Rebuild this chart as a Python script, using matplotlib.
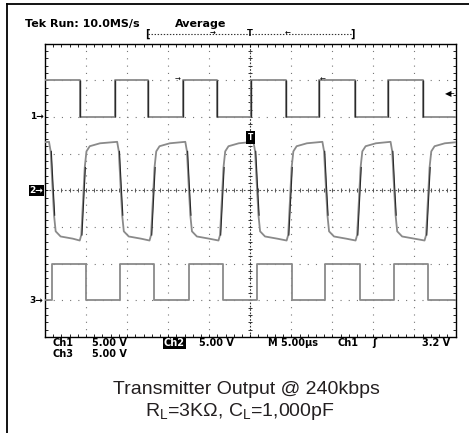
import numpy as np
import matplotlib.pyplot as plt
from matplotlib.lines import Line2D
from matplotlib.ticker import MultipleLocator
import matplotlib.transforms as mtransforms

plt.rcParams['lines.scale_dashes'] = False
plt.rcParams['mathtext.fontset'] = 'custom'
plt.rcParams['mathtext.rm'] = 'Liberation Sans'

# scope settings: 5 us/div (10 div), 5 V/div (8 div)
us_per_div = 5.0
v_per_div = 5.0
t_span = 10 * us_per_div
trig_level = 3.2

# ground reference of each channel, in divisions from centre
ch1_offset = 2.0
ch2_offset = 0.0
ch3_offset = -3.0

# Ch1 - logic input (V), edge times in us
ch1_levels = [0.0, 5.0]
ch1_rise = [8.5, 16.8, 25.1, 33.4, 41.8]
ch1_fall = [4.3, 12.5, 20.9, 29.3, 37.7, 46.0]

# Ch3 - receiver output
ch3_levels = [0.0, 5.0]
ch3_rise = [0.8, 9.1, 17.5, 25.8, 34.1, 42.5]
ch3_fall = [5.0, 13.3, 21.7, 30.1, 38.4, 46.7]

# Ch2 - transmitter output, zero crossings (us)
ch2_rise = [-3.5, 4.7, 13.2, 21.6, 29.9, 38.3, 46.7]
ch2_fall = [0.9, 9.2, 17.5, 25.8, 34.2, 42.5, 51.0]
# edge shape read around each crossing (us from crossing, V)
rise_dt = [-0.47, -0.28, -0.07, 0.14, 0.35, 0.75, 2.0]
rise_v = [-6.85, -6.1, -1.5, 3.1, 5.3, 6.0, 6.4]
fall_dt = [-0.41, -0.21, 0.0, 0.2, 0.4, 1.0, 2.5]
fall_v = [6.6, 5.3, 0.7, -3.4, -5.6, -6.3, -6.6]


def square(rise, fall, levels, start):
    ev = sorted([(t, levels[1]) for t in rise] + [(t, levels[0]) for t in fall])
    x = [0.0] + [e[0] for e in ev] + [t_span]
    y = [start] + [e[1] for e in ev]
    y = y + [y[-1]]
    return np.array(x), np.array(y)


def to_div(v, off):
    return off + np.asarray(v) / v_per_div


fig = plt.figure(figsize=(4.69, 4.33), dpi=100)
W, H = 469.0, 433.0
ax = fig.add_axes([45 / W, 1 - 337 / H, 410.5 / W, 293.5 / H])
ax.set_xlim(0, t_span)
ax.set_ylim(-4, 4)

# graticule
for xv in np.arange(us_per_div, t_span, us_per_div):
    if xv != t_span / 2:
        ax.axvline(xv, color='#777777', lw=0.8, ls=(0, (0.8, 4.47)), zorder=1)
for yv in np.arange(-3, 4, 1):
    if yv != 0:
        ax.axhline(yv, color='#777777', lw=0.8, ls=(0, (0.8, 5.1)), zorder=1)
ax.axvline(t_span / 2, color='#333333', lw=0.8, ls=(0, (1.2, 1.2)), zorder=1)
ax.axhline(0, color='#555555', lw=0.8, ls=(0, (1.2, 1.6)), zorder=1)
ax.plot(np.full(41, t_span / 2), np.linspace(-4, 4, 41), ls='none', marker='_',
        ms=3.5, mew=0.7, color='#333333', zorder=1)
ax.plot(np.linspace(0, t_span, 51), np.zeros(51), ls='none', marker='|',
        ms=3.5, mew=0.7, color='#555555', zorder=1)

ax.xaxis.set_major_locator(MultipleLocator(us_per_div))
ax.xaxis.set_minor_locator(MultipleLocator(us_per_div / 5))
ax.yaxis.set_major_locator(MultipleLocator(1))
ax.yaxis.set_minor_locator(MultipleLocator(0.2))
ax.tick_params(which='both', direction='in', top=True, right=True, length=2.5,
               width=0.6, labelbottom=False, labelleft=False)
for s in ax.spines.values():
    s.set_linewidth(1.0)

trace = '#8a8a8a'
edge = '#2a2a2a'

# Ch1
x1, y1 = square(ch1_rise, ch1_fall, ch1_levels, ch1_levels[1])
ax.plot(x1, to_div(y1, ch1_offset), drawstyle='steps-post', color=trace, lw=1.3, zorder=3)
ax.vlines(ch1_rise + ch1_fall, to_div(ch1_levels[0], ch1_offset),
          to_div(ch1_levels[1], ch1_offset), color=edge, lw=1.0, zorder=4)

# Ch2
pts = []
for tc in ch2_rise:
    pts += [(tc + d, v) for d, v in zip(rise_dt, rise_v)]
for tc in ch2_fall:
    pts += [(tc + d, v) for d, v in zip(fall_dt, fall_v)]
pts.sort()
t2 = np.array([p[0] for p in pts])
v2 = np.array([p[1] for p in pts])
ax.plot(t2, to_div(v2, ch2_offset), color=trace, lw=1.3, zorder=3)
for tc in ch2_rise:
    ax.plot(tc + np.array(rise_dt[1:4]) + 0.08, to_div(rise_v[1:4], ch2_offset),
            color=edge, lw=0.8, zorder=4)
for tc in ch2_fall:
    ax.plot(tc + np.array(fall_dt[1:4]) + 0.08, to_div(fall_v[1:4], ch2_offset),
            color=edge, lw=0.8, zorder=4)

# Ch3
x3, y3 = square(ch3_rise, ch3_fall, ch3_levels, ch3_levels[0])
ax.plot(x3, to_div(y3, ch3_offset), drawstyle='steps-post', color=trace, lw=1.3, zorder=3)

# channel markers
bt = mtransforms.blended_transform_factory(ax.transAxes, ax.transData)
mk = dict(transform=bt, ha='right', va='center', fontsize=6.5, weight='bold', clip_on=False)
ax.text(-0.004, ch1_offset, '1\u2192', **mk)
ax.text(-0.004, ch2_offset, '2\u2192', color='white',
        bbox=dict(boxstyle='square,pad=0.12', fc='black', ec='none'), **mk)
ax.text(-0.004, ch3_offset, '3\u2192', **mk)

# trigger level marker and trigger point
ax.text(t_span, to_div(trig_level, ch1_offset), '\u25c0\u2013', ha='right', va='center',
        fontsize=6, color='black', clip_on=False, zorder=5)
ax.text(t_span / 2, 1.43, 'T', ha='center', va='center', color='white', fontsize=5.5,
        weight='bold', bbox=dict(boxstyle='square,pad=0.25', fc='black', ec='none'), zorder=6)
ax.text(16.2, to_div(ch1_levels[1], ch1_offset), '\u2192', ha='center', va='center',
        fontsize=5, zorder=5)
ax.text(33.4, to_div(ch1_levels[1], ch1_offset), '\u2190', ha='left', va='center',
        fontsize=5, zorder=5)

# record bar above the graticule
yb = 1.032
ax.plot([0.25, 0.75], [yb, yb], transform=ax.transAxes, color='#333333', lw=0.8,
        ls=(0, (1, 1.2)), clip_on=False)
rb = dict(transform=ax.transAxes, ha='center', va='center', clip_on=False, weight='bold')
ax.text(0.25, yb, '[', fontsize=7, **rb)
ax.text(0.75, yb, ']', fontsize=7, **rb)
ax.text(0.5, yb + 0.002, 'T', fontsize=6, **rb)
ax.text(0.407, yb + 0.004, '\u2192', fontsize=5, **rb)
ax.text(0.59, yb + 0.004, '\u2190', fontsize=5, **rb)

# scope readouts
def ft(x, y, s, **kw):
    return fig.text(x / W, 1 - y / H, s, va='center', family='DejaVu Sans',
                    weight='bold', **kw)

ft(25, 24, 'Tek Run: 10.0MS/s', fontsize=8)
ft(175, 24, 'Average', fontsize=8)
ft(52, 343, 'Ch1', fontsize=7)
ft(92, 343, '5.00 V', fontsize=7)
ft(164, 343, 'Ch2', fontsize=7, color='white',
   bbox=dict(boxstyle='square,pad=0.1', fc='black', ec='none'))
ft(199, 343, '5.00 V', fontsize=7)
ft(268, 343, 'M 5.00\u00b5s', fontsize=7)
ft(338, 343, 'Ch1', fontsize=7)
ft(372, 343, '\u0283', fontsize=7)
ft(450, 343, '3.2 V', fontsize=7, ha='right')
ft(52, 354, 'Ch3', fontsize=7)
ft(92, 354, '5.00 V', fontsize=7)

# caption
cap = dict(ha='center', va='center', family='Liberation Sans', fontsize=14, color='#231f20')
fig.text(246 / W, 1 - 389 / H, 'Transmitter Output @ 240kbps', **cap)
fig.text(240 / W, 1 - 412 / H, r'R$_\mathrm{L}$=3K\u03a9, C$_\mathrm{L}$=1,000pF'.replace('\\u03a9', '\u03a9'), **cap)

# outer frame (cropped on right and bottom)
fig.add_artist(Line2D([7 / W, 1], [1 - 4 / H, 1 - 4 / H], transform=fig.transFigure,
                      color='black', lw=1.3))
fig.add_artist(Line2D([7 / W, 7 / W], [0, 1 - 4 / H], transform=fig.transFigure,
                      color='black', lw=1.3))

fig.savefig('out.png', dpi=100)
